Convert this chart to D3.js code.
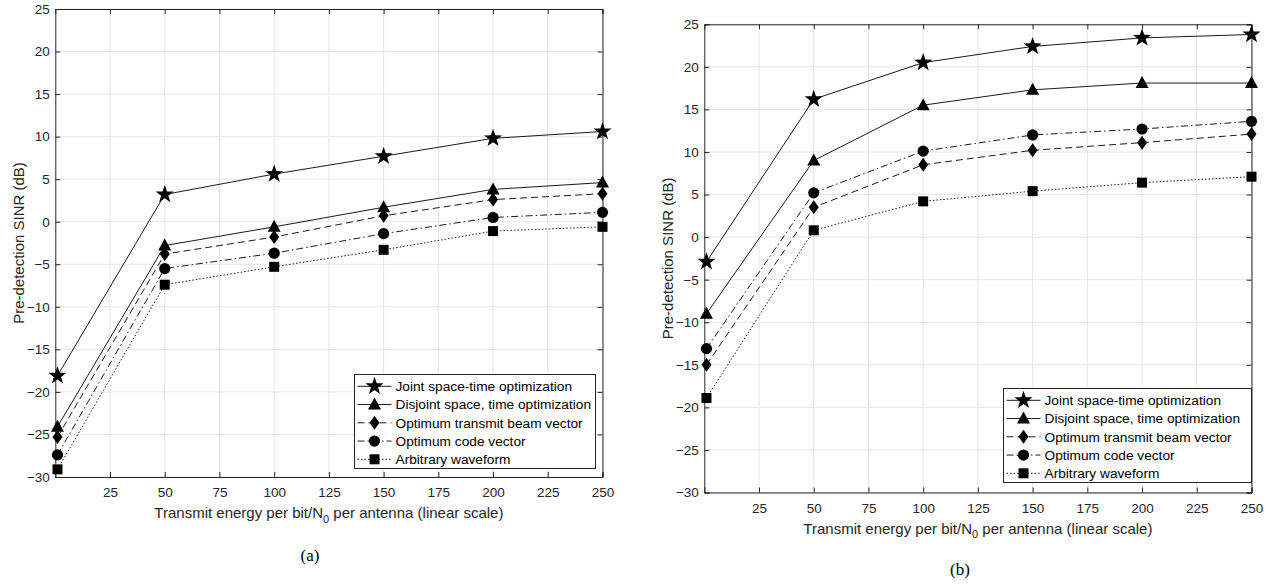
<!DOCTYPE html>
<html>
<head>
<meta charset="utf-8">
<script src="https://cdn.jsdelivr.net/npm/d3@7"></script>
<style>
  html, body { margin: 0; padding: 0; background: #fff; }
  svg { display: block; }
  text { font-family: "Liberation Sans", Arial, Helvetica, sans-serif; fill: #262626; }
</style>
</head>
<body>
<svg id="chart" width="1271" height="584"></svg>
<script>
// Transmit energy per bit / N0 per antenna (x values of every curve)
const energy = [1, 50, 100, 150, 200, 250];
const xTicks = [25, 50, 75, 100, 125, 150, 175, 200, 225, 250];
const yTicks = [-30, -25, -20, -15, -10, -5, 0, 5, 10, 15, 20, 25];

const seriesNames = [
  "Joint space-time optimization",
  "Disjoint space, time optimization",
  "Optimum transmit beam vector",
  "Optimum code vector",
  "Arbitrary waveform"
];

// Panel (a): pre-detection SINR in dB
const jointA    = [-18.1,  3.2,  5.6,  7.7,  9.8, 10.6];
const disjointA = [-24.1, -2.8, -0.6,  1.7,  3.8,  4.6];
const beamA     = [-25.3, -3.8, -1.8,  0.7,  2.6,  3.3];
const codeA     = [-27.4, -5.5, -3.7, -1.4,  0.5,  1.1];
const arbA      = [-29.1, -7.4, -5.3, -3.3, -1.1, -0.6];

// Panel (b): pre-detection SINR in dB
const jointB    = [ -2.9, 16.2, 20.5, 22.4, 23.4, 23.8];
const disjointB = [ -9.0,  9.0, 15.5, 17.3, 18.1, 18.1];
const beamB     = [-15.0,  3.5,  8.5, 10.2, 11.1, 12.1];
const codeB     = [-13.1,  5.2, 10.1, 12.0, 12.7, 13.6];
const arbB      = [-18.9,  0.8,  4.2,  5.4,  6.4,  7.1];

// Line style and marker of each series
const styles = [
  { dash: null,            marker: "star" },
  { dash: null,            marker: "triangle" },
  { dash: "7,4",           marker: "diamond" },
  { dash: "7,3,1.5,3",     marker: "circle" },
  { dash: "1.5,2",         marker: "square" }
];

function markerPath(kind) {
  if (kind === "star") {
    const R = 9.5, r = 3.8;
    const pts = [];
    for (let i = 0; i < 10; i++) {
      const a = -Math.PI / 2 + i * Math.PI / 5;
      const rad = i % 2 === 0 ? R : r;
      pts.push([rad * Math.cos(a), rad * Math.sin(a)]);
    }
    return "M" + pts.map(p => p[0].toFixed(2) + "," + p[1].toFixed(2)).join("L") + "Z";
  }
  if (kind === "triangle") return "M0,-7L6.5,5L-6.5,5Z";
  if (kind === "diamond") return "M0,-7L5,0L0,7L-5,0Z";
  if (kind === "circle") return "M5.6,0A5.6,5.6 0 1,1 -5.6,0A5.6,5.6 0 1,1 5.6,0Z";
  if (kind === "square") return "M-5,-5H5V5H-5Z";
}

const svg = d3.select("#chart");

function drawPanel(opts) {
  const { left, right, top, bottom, series, caption, legend } = opts;
  const g = svg.append("g");

  const x = d3.scaleLinear().domain([0, 250]).range([left, right]);
  const y = d3.scaleLinear().domain([-30, 25]).range([bottom, top]);

  // grid
  g.append("g").selectAll("line").data(xTicks).join("line")
    .attr("x1", d => x(d)).attr("x2", d => x(d))
    .attr("y1", top).attr("y2", bottom)
    .attr("stroke", "#e6e6e6").attr("stroke-width", 1);
  g.append("g").selectAll("line").data(yTicks).join("line")
    .attr("x1", left).attr("x2", right)
    .attr("y1", d => y(d)).attr("y2", d => y(d))
    .attr("stroke", "#e6e6e6").attr("stroke-width", 1);

  // axes (ticks point inward, box on)
  const tl = 5;
  const axB = d3.axisBottom(x).tickValues(xTicks).tickSize(-tl).tickPadding(10.5).tickFormat(d3.format("d"));
  const axT = d3.axisTop(x).tickValues(xTicks).tickSize(-tl).tickFormat("");
  const axL = d3.axisLeft(y).tickValues(yTicks).tickSize(-tl).tickPadding(5.5).tickFormat(d3.format("d"));
  const axR = d3.axisRight(y).tickValues(yTicks).tickSize(-tl).tickFormat("");

  const styleAxis = sel => {
    sel.select(".domain").attr("stroke", "#262626").attr("stroke-width", 1);
    sel.selectAll(".tick line").attr("stroke", "#262626");
    sel.selectAll(".tick text").attr("fill", "#262626")
      .style("font-family", "'Liberation Sans', Arial, sans-serif").style("font-size", "13.5px");
  };
  g.append("g").attr("transform", `translate(0,${bottom})`).call(axB).call(styleAxis);
  g.append("g").attr("transform", `translate(0,${top})`).call(axT).call(styleAxis);
  g.append("g").attr("transform", `translate(${left},0)`).call(axL).call(styleAxis);
  g.append("g").attr("transform", `translate(${right},0)`).call(axR).call(styleAxis);

  // curves
  const line = d3.line().x((d, i) => x(energy[i])).y(d => y(d));
  series.forEach((vals, k) => {
    g.append("path").datum(vals)
      .attr("d", line)
      .attr("fill", "none").attr("stroke", "#000").attr("stroke-width", 0.9)
      .attr("stroke-dasharray", styles[k].dash);
    g.append("g").selectAll("path").data(vals).join("path")
      .attr("transform", (d, i) => `translate(${x(energy[i])},${y(d)})`)
      .attr("d", markerPath(styles[k].marker))
      .attr("fill", "#000");
  });

  // axis titles
  const xt = g.append("text")
    .attr("x", (left + right) / 2).attr("y", bottom + 41)
    .attr("text-anchor", "middle").style("font-size", "15px");
  xt.append("tspan").text("Transmit energy per bit/N");
  xt.append("tspan").attr("dy", 4.5).style("font-size", "11px").text("0");
  xt.append("tspan").attr("dy", -4.5).text(" per antenna (linear scale)");

  g.append("text")
    .attr("transform", `translate(${left - 31},${(top + bottom) / 2}) rotate(-90)`)
    .attr("text-anchor", "middle").style("font-size", "15px")
    .text("Pre-detection SINR (dB)");

  // caption
  g.append("text")
    .attr("x", caption.x).attr("y", caption.y)
    .attr("text-anchor", "middle")
    .style("font-family", "'Liberation Serif', 'Times New Roman', serif")
    .style("font-size", "17px").style("fill", "#000")
    .text(caption.label);

  // legend
  const lg = g.append("g").attr("transform", `translate(${legend.x},${legend.y})`);
  lg.append("rect")
    .attr("width", legend.w).attr("height", legend.h)
    .attr("fill", "#fff").attr("stroke", "#262626").attr("stroke-width", 1);
  seriesNames.forEach((name, k) => {
    const cy = 11.8 + k * 18.25;
    lg.append("line")
      .attr("x1", 3).attr("x2", 37).attr("y1", cy).attr("y2", cy)
      .attr("stroke", "#000").attr("stroke-width", 0.9)
      .attr("stroke-dasharray", styles[k].dash);
    lg.append("path")
      .attr("transform", `translate(20,${cy})`)
      .attr("d", markerPath(styles[k].marker))
      .attr("fill", "#000");
    lg.append("text")
      .attr("x", 41).attr("y", cy).attr("dy", "0.35em")
      .style("font-size", "13.7px").style("fill", "#000")
      .text(name);
  });
}

drawPanel({
  left: 55.3, right: 602.5, top: 9, bottom: 477,
  series: [jointA, disjointA, beamA, codeA, arbA],
  caption: { x: 310, y: 561, label: "(a)" },
  legend: { x: 354.5, y: 374.5, w: 241, h: 94 }
});

drawPanel({
  left: 704.3, right: 1251.5, top: 24.3, bottom: 492.5,
  series: [jointB, disjointB, beamB, codeB, arbB],
  caption: { x: 960, y: 575, label: "(b)" },
  legend: { x: 1003.5, y: 388.5, w: 248, h: 94 }
});
</script>
</body>
</html>
